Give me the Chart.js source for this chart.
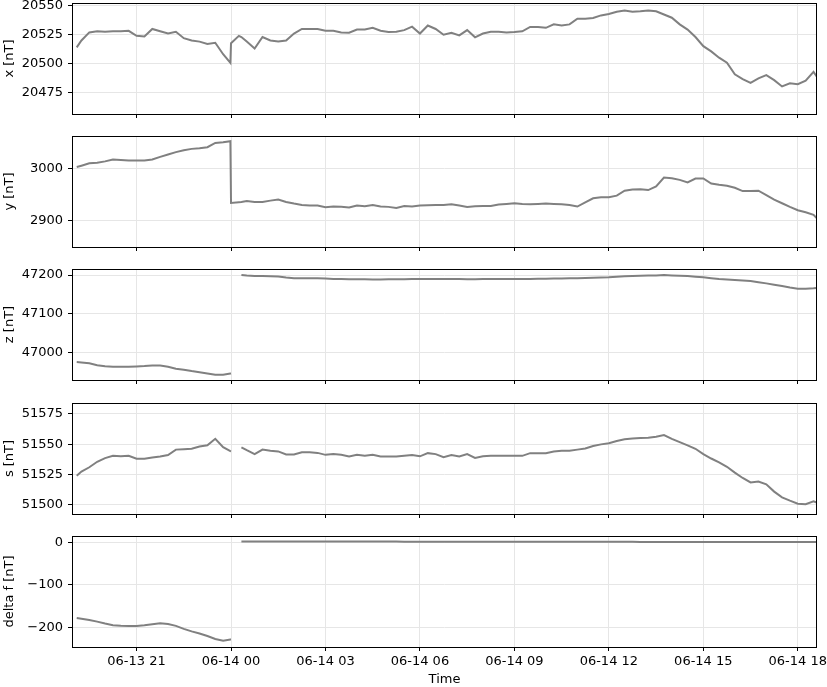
<!DOCTYPE html>
<html>
<head>
<meta charset="utf-8">
<title>Magnetometer</title>
<script src="https://cdn.jsdelivr.net/npm/chart.js"></script>
<style>
  html, body { margin: 0; padding: 0; background: #fff; }
  #wrap { position: relative; width: 827px; height: 687px; overflow: hidden; }
  #wrap canvas { position: absolute; left: 0; }
</style>
</head>
<body>
<div id="wrap"></div>
<script>
// hours counted from 06-13 00:00
const hours = [
  19.1, 19.25, 19.5, 19.75, 20.0, 20.25, 20.5, 20.75, 21.0,
  21.25, 21.5, 21.75, 22.0, 22.25, 22.5, 22.75, 23.0, 23.25, 23.5, 23.75,
  23.98, 24.0, 24.25, 24.33,
  24.5, 24.75, 25.0, 25.25, 25.5, 25.75, 26.0, 26.25, 26.5, 26.75, 27.0,
  27.25, 27.5, 27.75, 28.0, 28.25, 28.5, 28.75, 29.0, 29.25, 29.5, 29.75, 30.0,
  30.25, 30.5, 30.75, 31.0, 31.25, 31.5, 31.75, 32.0, 32.25, 32.5, 32.75, 33.0,
  33.25, 33.5, 33.75, 34.0, 34.25, 34.5, 34.75, 35.0, 35.25, 35.5, 35.75, 36.0,
  36.25, 36.5, 36.75, 37.0, 37.25, 37.5, 37.75, 38.0, 38.25, 38.5, 38.75, 39.0,
  39.25, 39.5, 39.75, 40.0, 40.25, 40.5, 40.75, 41.0, 41.25, 41.5, 41.75, 42.0,
  42.25, 42.5, 42.6
];

const xVals = [
  20514, 20520, 20527, 20528, 20527.5, 20528, 20528, 20528.4, 20524,
  20523.5, 20530, 20528, 20526, 20527.5, 20522, 20520, 20519, 20517, 20518, 20508,
  20500.5, 20517.6, 20524, 20523,
  20519, 20513, 20523, 20520, 20519, 20520, 20526, 20530, 20530, 20530, 20528.4,
  20528.4, 20527, 20526.7, 20529.5, 20529.5, 20531, 20528.4, 20527.3, 20527.5, 20529, 20532, 20526,
  20533, 20530, 20525, 20526.7, 20524.4, 20529, 20522.7, 20526, 20527.5, 20527.5, 20527, 20527.3,
  20528, 20531.8, 20531.8, 20531, 20534, 20533, 20534, 20539, 20539, 20539.5, 20541.8, 20543,
  20545, 20546, 20545, 20545.4, 20546, 20545.4, 20542.6, 20539.8, 20534, 20529.5, 20523, 20515,
  20510.5, 20505, 20500.6, 20490.6, 20486.4, 20483, 20487, 20489.8, 20485.5, 20480, 20482.7, 20482,
  20485, 20492.6, 20488.6
];

const yVals = [
  3002.5, 3005, 3009.5, 3010.8, 3013.3, 3017, 3016, 3015, 3015,
  3015, 3017, 3022, 3026.6, 3031, 3034.8, 3037.3, 3038.6, 3040.5, 3048.7, 3050,
  3052, 2933.5, 2935, 2935.5,
  2937.3, 2935.4, 2935.4, 2938, 2940, 2935.4, 2932.3, 2929.7, 2928.5, 2928.5, 2925.3,
  2926.6, 2926, 2924.7, 2928.5, 2927.2, 2929.7, 2926.6, 2926, 2924, 2927.8, 2926.6, 2928.5,
  2929, 2929.7, 2929.7, 2931, 2928.5, 2926, 2927.2, 2927.8, 2927.8, 2930.4, 2931.6, 2933,
  2931.6, 2931, 2931.6, 2932.3, 2931.6, 2931, 2929.7, 2926.6, 2934.8, 2942.4, 2944.3, 2944.3,
  2947.5, 2957, 2959.5, 2960, 2958.2, 2965.2, 2982.3, 2981, 2977.8, 2972.8, 2980.4, 2980.4,
  2970.9, 2968.4, 2966.5, 2962.7, 2956.3, 2956.3, 2957, 2948.7, 2939.9, 2932.9, 2926, 2919.6,
  2915.8, 2910.8, 2904.4
];

const zVals = [
  46976, 46975, 46973, 46968, 46965.5, 46964, 46964, 46964, 46965,
  46966, 46967.5, 46967, 46964, 46959, 46956.5, 46953, 46950, 46947, 46943.5, 46943.3,
  46946.5, 46946.8, null, 47200,
  47198.5, 47197.5, 47197.4, 47197, 47196, 47193.5, 47192, 47191.8, 47191.5, 47191.4, 47191,
  47190, 47189.5, 47189, 47189, 47189, 47188.8, 47188.8, 47189, 47189, 47189.2, 47189.5, 47189.7,
  47189.8, 47189.8, 47189.6, 47189.5, 47189.5, 47189.4, 47189.4, 47189.5, 47189.6, 47189.6, 47189.7, 47189.7,
  47189.9, 47190.1, 47190.3, 47190.5, 47190.9, 47191.3, 47191.4, 47191.8, 47192.4, 47193, 47193.5, 47194,
  47195.5, 47196.6, 47197.5, 47198.3, 47198.7, 47199, 47200, 47199, 47198.2, 47197.4, 47195.8, 47194,
  47191.8, 47189.7, 47188.3, 47187, 47185.8, 47184.5, 47181.5, 47178.5, 47175, 47171.7, 47168, 47164.8,
  47165, 47165.7, 47166.5
];

const sVals = [
  51524, 51527.5, 51531, 51535.5, 51538.5, 51540.4, 51540, 51540.5, 51538,
  51538, 51539, 51539.8, 51541, 51545.5, 51545.8, 51546.2, 51548, 51549, 51554.4, 51547.5,
  51544.2, 51544, null, 51547.3,
  51545, 51541.8, 51545.5, 51544.5, 51544, 51541.5, 51541.5, 51543.4, 51543.4, 51542.8, 51541.2,
  51541.8, 51541.2, 51539.8, 51541.2, 51540.4, 51541.2, 51539.8, 51539.8, 51539.8, 51540.4, 51541, 51540,
  51542.6, 51541.8, 51539.3, 51541, 51539.8, 51541.8, 51538.7, 51540, 51540.4, 51540.4, 51540.4, 51540.4,
  51540.4, 51542.6, 51542.6, 51542.6, 51544, 51544.5, 51544.5, 51545.5, 51546.5, 51548.5, 51549.8, 51550.8,
  51552.5, 51554, 51554.7, 51555, 51555.2, 51556, 51557.5, 51554.3, 51551.6, 51549, 51546.2, 51541.8,
  51538.2, 51535, 51531.4, 51526.6, 51522.2, 51518.5, 51519.2, 51517, 51511, 51506.3, 51503.6, 51501.1,
  51500.6, 51503, 51502
];

const dfVals = [
  -178.5, -180, -183, -187, -191.5, -195.5, -197, -197.5, -197.5,
  -195.5, -193, -191, -192.5, -197, -204, -210, -215, -221, -228, -232,
  -229, -229, null, 2.0,
  2.0, 2.0, 1.9, 1.9, 1.9, 1.9, 1.8, 1.8, 1.8, 1.8, 1.7,
  1.7, 1.7, 1.7, 1.7, 1.6, 1.6, 1.6, 1.6, 1.6, 1.5, 1.5, 1.5,
  1.5, 1.5, 1.4, 1.4, 1.4, 1.4, 1.4, 1.3, 1.3, 1.3, 1.3, 1.3,
  1.2, 1.2, 1.2, 1.2, 1.2, 1.1, 1.1, 1.1, 1.1, 1.0, 1.0, 1.0,
  1.0, 1.0, 1.0, 0.9, 0.9, 0.9, 0.9, 0.9, 0.8, 0.8, 0.8, 0.8,
  0.7, 0.7, 0.7, 0.7, 0.6, 0.6, 0.6, 0.5, 0.5, 0.5, 0.4, 0.4,
  0.4, 0.4, 0.4
];

const panels = [
  { label: 'x [nT]', values: xVals, min: 20456, max: 20552.6, step: 25, top: 3 },
  { label: 'y [nT]', values: yVals, min: 2849, max: 3062, step: 100, top: 136 },
  { label: 'z [nT]', values: zVals, min: 46930, max: 47215.5, step: 100, top: 269 },
  { label: 's [nT]', values: sVals, min: 51492.6, max: 51583.8, step: 25, top: 403 },
  { label: 'delta f [nT]', values: dfVals, min: -246.8, max: 14.8, step: 100, top: 536 }
];

const X_MIN = 18.95, X_MAX = 42.61;
const PLOT_H = 111;
const PAD_TOP = 8;

Chart.defaults.font.family = 'DejaVu Sans';
Chart.defaults.font.size = 13;
Chart.defaults.color = '#000';

// the four spines round each plot area
const frame = {
  id: 'frame',
  afterDraw(chart) {
    const a = chart.chartArea, c = chart.ctx;
    c.save();
    c.strokeStyle = '#000';
    c.lineWidth = 1;
    c.strokeRect(a.left + 0.5, a.top + 0.5, a.right - a.left - 1, a.bottom - a.top);
    c.restore();
  }
};

function hourLabel(v) {
  const h = Math.round(v);
  const day = 13 + Math.floor(h / 24);
  return '06-' + day + ' ' + String(h % 24).padStart(2, '0');
}

const wrap = document.getElementById('wrap');

panels.forEach((p, i) => {
  const last = i === panels.length - 1;
  const axisH = last ? 40 : 6;
  const cv = document.createElement('canvas');
  cv.width = 827;
  cv.height = PAD_TOP + PLOT_H + axisH;
  cv.style.top = (p.top - PAD_TOP) + 'px';
  wrap.appendChild(cv);

  new Chart(cv, {
    type: 'line',
    data: {
      datasets: [{
        data: hours.map((h, k) => ({ x: h, y: p.values[k] })),
        borderColor: '#808080',
        borderWidth: 2,
        pointRadius: 0,
        tension: 0,
        spanGaps: false
      }]
    },
    options: {
      responsive: false,
      animation: false,
      events: [],
      layout: { padding: { top: PAD_TOP, right: 10, left: 0, bottom: 0 } },
      plugins: { legend: { display: false }, tooltip: { enabled: false } },
      scales: {
        x: {
          type: 'linear',
          min: X_MIN,
          max: X_MAX,
          border: { display: false },
          grid: { color: '#e6e6e6', tickColor: '#000', tickLength: 4 },
          ticks: {
            display: last,
            stepSize: 3,
            includeBounds: false,
            autoSkip: false,
            maxRotation: 0,
            padding: 3,
            callback: hourLabel
          },
          title: { display: last, text: 'Time', padding: { top: 0, bottom: 0 } },
          afterFit: s => { s.height = axisH; s.paddingLeft = 0; s.paddingRight = 0; }
        },
        y: {
          min: p.min,
          max: p.max,
          border: { display: false },
          grid: { color: '#e6e6e6', tickColor: '#000', tickLength: 4 },
          ticks: {
            stepSize: p.step,
            includeBounds: false,
            padding: 5,
            callback: v => String(v).replace('-', '\u2212')
          },
          title: { display: true, text: p.label, padding: { top: 2, bottom: 0 } },
          afterFit: s => { s.width = 72; s.paddingTop = 0; s.paddingBottom = 0; }
        }
      }
    },
    plugins: [frame]
  });
});
</script>
</body>
</html>
